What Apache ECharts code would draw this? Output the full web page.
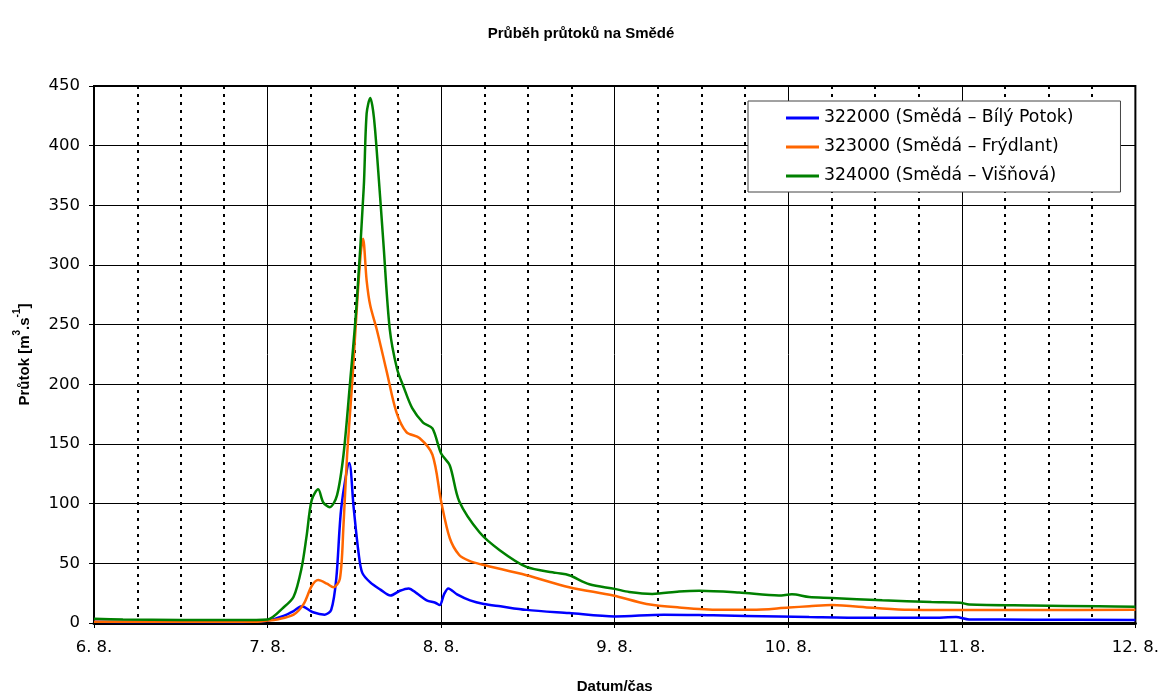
<!DOCTYPE html>
<html>
<head>
<meta charset="utf-8">
<script src="https://cdn.jsdelivr.net/npm/echarts@6/dist/echarts.min.js"></script>
<style>html,body{margin:0;padding:0;background:#fff}#c{width:1162px;height:699px}</style>
</head>
<body>
<div id="c"></div>
<script>
// hours since 6. 8. 00:00
const dayLabels = ['6. 8.', '7. 8.', '8. 8.', '9. 8.', '10. 8.', '11. 8.', '12. 8.'];
const yTicks = [0, 50, 100, 150, 200, 250, 300, 350, 400, 450];

const seriesNames = ['322000 (Smědá – Bílý Potok)', '323000 (Smědá – Frýdlant)', '324000 (Smědá – Višňová)'];

const hours322 = [0,6,12,18,22,24,26.2,27.6,28.7,30.3,31.9,32.8,33.5,34.2,35.3,35.9,36.6,37.1,38.2,39.6,41.0,42.3,43.5,44.6,46.0,47.2,47.8,48.4,49.0,50.2,52.0,53.9,56.2,59.8,65.7,72,78.8,85.6,94.7,98.9,106.7,115.8,119.2,121,130,144];
const flow322 = [1,0.8,0.8,0.8,1,2,6,10,14,9,7,11,37,97,134,97,58,42,34,28,23,27,29,25,19,17,15,24,29,24,19,16,14,11,8.3,5.5,7,6.4,5.5,5,4.4,4.4,5,3,2.8,2.5];

const hours323 = [0,12,22,24,25.3,27.6,29.0,30.1,31.0,32.2,33.1,34.0,34.5,35.0,35.7,36.3,36.9,37.2,37.7,38.2,39.1,40.5,41.8,43.2,45.0,46.8,48.0,49.2,50.5,51.9,53.6,59.8,65.7,71.8,76.4,80.9,86.4,91.0,96.1,98.9,102,107.6,112.7,119.6,129.7,144];
const flow323 = [1,1,1,2,3,7,16,31,36,33,30,37,82,141,201,260,311,322,287,266,246,210,177,160,155,141,102,71,57,52,49,40,30,23,16,13,11,11,13,14,15,12.8,11,10.8,10.8,11];

const hours324 = [0,4,12,20,24,26.2,27.6,28.7,29.4,30.1,31.0,31.7,32.6,33.6,34.5,35.4,36.3,37.3,37.7,38.2,38.7,39.3,40.0,40.9,41.9,42.8,44.0,45.5,46.8,48.0,49.2,50.5,53.3,56.1,59.8,63.9,65.7,68.5,72,74,77.2,80.9,83.7,89.2,94.7,96.5,98.9,102,109,115.8,119.8,121,129.7,138.9,144];
const flow324 = [3.5,3,2.5,2.5,3,13,22,46,73,103,112,101,97,107,141,201,266,365,427,440,424,379,320,246,213,198,180,168,163,142,132,102,76,61,47,42,40,32.5,28.6,26,24.4,26.4,27,25.5,23,24,21.7,21,19,17.5,17,15.5,14.7,14,13.6];

const colors = ['#0000FF', '#FF6600', '#008000'];
const pairs = (xs, ys) => xs.map((x, i) => [x, ys[i]]);
const FONT = '"Liberation Sans", Arial, sans-serif';
const WIDE = '"DejaVu Sans", "Liberation Sans", sans-serif';

const chart = echarts.init(document.getElementById('c'));
chart.setOption({
  animation: false,
  backgroundColor: '#fff',
  textStyle: { fontFamily: FONT, color: '#000' },
  title: {
    text: 'Průběh průtoků na Smědé',
    left: 'center', top: 21,
    textStyle: { fontFamily: FONT, fontSize: 15, fontWeight: 'bold', color: '#000' }
  },
  legend: {
    orient: 'vertical',
    left: 748, top: 101,
    padding: [7, 47, 6, 38],
    itemGap: 9,
    itemWidth: 33, itemHeight: 3,
    icon: 'rect',
    backgroundColor: '#fff',
    borderColor: '#444', borderWidth: 1,
    textStyle: { fontFamily: WIDE, fontSize: 17.3, color: '#000', lineHeight: 20 },
    data: seriesNames
  },
  grid: {
    left: 94, right: 25, top: 86, bottom: 73,
    show: true, borderColor: '#000', borderWidth: 2, backgroundColor: 'transparent'
  },
  xAxis: {
    type: 'value', min: 0, max: 144, interval: 24,
    name: 'Datum/čas', nameLocation: 'middle', nameGap: 56,
    nameTextStyle: { fontFamily: FONT, fontSize: 15, fontWeight: 'bold', color: '#000' },
    axisLine: { show: true, onZero: false, lineStyle: { color: '#000', width: 3 } },
    axisTick: { show: true, length: 5, lineStyle: { color: '#000', width: 1 } },
    axisLabel: {
      fontFamily: WIDE, fontSize: 16.5, color: '#000', margin: 16,
      formatter: v => dayLabels[Math.round(v / 24)]
    },
    splitLine: { show: true, lineStyle: { color: '#000', width: 1 } },
    minorTick: { show: false, splitNumber: 4 },
    minorSplitLine: { show: true, lineStyle: { color: '#000', width: 2, type: [3, 5] } }
  },
  yAxis: {
    type: 'value', min: 0, max: 450, interval: 50,
    name: '{a|Průtok [m}{s|3}{a|.s}{s|-1}{a|]}', nameLocation: 'middle', nameGap: 62, nameRotate: 90,
    nameTextStyle: {
      fontFamily: FONT, fontSize: 15, fontWeight: 'bold', color: '#000',
      rich: {
        a: { fontFamily: FONT, fontSize: 15, fontWeight: 'bold', color: '#000', lineHeight: 20, verticalAlign: 'bottom' },
        s: { fontFamily: FONT, fontSize: 10, fontWeight: 'bold', color: '#000', lineHeight: 20, verticalAlign: 'top' }
      }
    },
    axisLine: { show: true, lineStyle: { color: '#000', width: 2 } },
    axisTick: { show: true, length: 5, lineStyle: { color: '#000', width: 1 } },
    axisLabel: {
      fontFamily: WIDE, fontSize: 16.5, color: '#000', margin: 14,
      formatter: v => (yTicks.includes(v) ? String(v) : '')
    },
    splitLine: { show: true, lineStyle: { color: '#000', width: 1 } }
  },
  series: [
    { name: seriesNames[0], type: 'line', data: pairs(hours322, flow322), color: colors[0], symbol: 'none', smooth: 0.3, lineStyle: { width: 2.5 }, z: 3 },
    { name: seriesNames[1], type: 'line', data: pairs(hours323, flow323), color: colors[1], symbol: 'none', smooth: 0.3, lineStyle: { width: 2.5 }, z: 4 },
    { name: seriesNames[2], type: 'line', data: pairs(hours324, flow324), color: colors[2], symbol: 'none', smooth: 0.3, lineStyle: { width: 2.5 }, z: 5 }
  ]
});
</script>
</body>
</html>
